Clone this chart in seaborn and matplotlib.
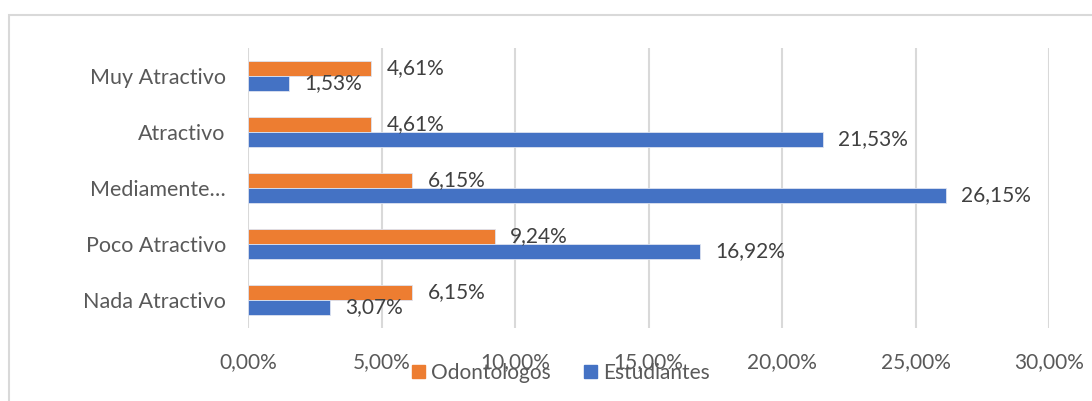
import pandas as pd
import matplotlib.pyplot as plt
import seaborn as sns
from matplotlib.patches import Rectangle

# Data (percent)
categorias = ["Muy Atractivo", "Atractivo", "Mediamente…", "Poco Atractivo", "Nada Atractivo"]
odontologos = [4.61, 4.61, 6.15, 9.24, 6.15]
estudiantes = [1.53, 21.53, 26.15, 16.92, 3.07]
series = ["Odontologos", "Estudiantes"]
colores = ["#ED7D31", "#4472C4"]

df = pd.DataFrame({
    "categoria": categorias * 2,
    "valor": odontologos + estudiantes,
    "serie": [series[0]] * len(categorias) + [series[1]] * len(categorias),
})

sns.set_style("white")
plt.rcParams['font.family'] = ['Lato', 'DejaVu Sans']

fig = plt.figure(figsize=(10.92, 4.01), dpi=100)
ax = fig.add_axes([248 / 1092, 1 - 328 / 401, (1049 - 248) / 1092, (328 - 48) / 401])

sns.barplot(data=df, y="categoria", x="valor", hue="serie", order=categorias,
            hue_order=series, palette=colores, saturation=1, orient="h", width=0.54,
            edgecolor="#dde3f0", linewidth=0.6, ax=ax, legend=False)

# data labels
for cont in ax.containers:
    ax.bar_label(cont, labels=[f"{v:.2f}%".replace(".", ",") for v in cont.datavalues],
                 padding=11, fontsize=15, color="#404040")

ax.set_xlim(0, 30)
ax.set_xticks(range(0, 31, 5))
ax.set_xticklabels([f"{v:.2f}%".replace(".", ",") for v in range(0, 31, 5)])
ax.tick_params(axis="x", labelsize=15, labelcolor="#595959", length=0, pad=17)
ax.tick_params(axis="y", labelsize=15.5, labelcolor="#595959", length=0, pad=16)
ax.set_xlabel("")
ax.set_ylabel("")
ax.grid(axis="x", color="#d9d9d9", linewidth=1.5)
ax.set_axisbelow(True)
for s in ax.spines.values():
    s.set_visible(False)

# legend
handles = [Rectangle((0, 0), 1, 1, color=c) for c in colores]
fig.legend(handles, series, loc="center", bbox_to_anchor=(561 / 1092, 1 - 373 / 401),
           ncol=2, frameon=False, fontsize=15, labelcolor="#595959",
           handlelength=0.6, handleheight=0.6, handletextpad=0.3, columnspacing=1.6)

# chart area border
fig.patches.append(Rectangle((9 / 1092, -0.1), 1.2, 1.1 - 15 / 401, transform=fig.transFigure,
                             fill=False, edgecolor="#d9d9d9", linewidth=1.5, zorder=0))

fig.savefig("out.png", dpi=100)
